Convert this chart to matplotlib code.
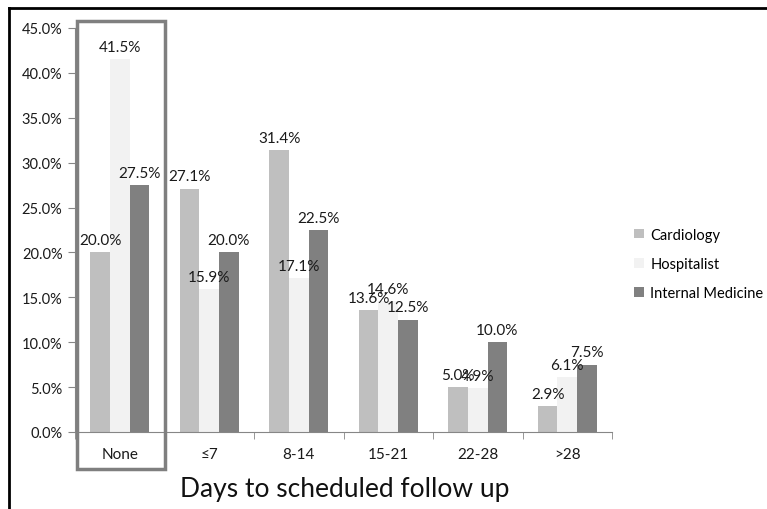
import matplotlib
matplotlib.use("Agg")
import matplotlib.pyplot as plt
from matplotlib.lines import Line2D
from matplotlib.patches import Rectangle
import numpy as np

categories = ["None", "\u22647", "8-14", "15-21", "22-28", ">28"]
cardiology = [20.0, 27.1, 31.4, 13.6, 5.0, 2.9]
hospitalist = [41.5, 15.9, 17.1, 14.6, 4.9, 6.1]
internal_med = [27.5, 20.0, 22.5, 12.5, 10.0, 7.5]
series_names = ["Cardiology", "Hospitalist", "Internal Medicine"]
colors = ["#BFBFBF", "#F2F2F2", "#808080"]
yticks = [0, 5, 10, 15, 20, 25, 30, 35, 40, 45]

plt.rcParams['font.family'] = ['Lato', 'DejaVu Sans']

W, H = 767, 510
fig = plt.figure(figsize=(W / 100, H / 100), dpi=100)
ax = fig.add_axes([75 / W, 1 - 433 / H, (612 - 75) / W, (433 - 29) / H])

x = np.arange(len(categories))
bw = 0.218
data = [cardiology, hospitalist, internal_med]
for i, (vals, c, name) in enumerate(zip(data, colors, series_names)):
    pos = x + (i - 1) * bw
    ax.bar(pos, vals, width=bw, color=c, label=name, zorder=2)
    for px, v in zip(pos, vals):
        ax.text(px, v + 0.6, f"{v:.1f}%", ha="center", va="bottom",
                fontsize=11, color="#1a1a1a")

ax.set_xlim(-0.5, len(categories) - 0.5)
ax.set_ylim(0, 45)
ax.set_yticks(yticks)
ax.set_yticklabels([f"{t:.1f}%" for t in yticks], fontsize=10.5, color="#1a1a1a")
ax.set_xticks(x)
ax.set_xticklabels(categories, fontsize=11, color="#1a1a1a")
ax.set_xticks(np.arange(-0.5, len(categories)), minor=True)
ax.tick_params(axis="x", which="major", length=0, pad=11)
ax.tick_params(axis="x", which="minor", length=5, color="#868686")
ax.tick_params(axis="y", length=5, color="#868686", pad=4)
for s in ["top", "right"]:
    ax.spines[s].set_visible(False)
for s in ["left", "bottom"]:
    ax.spines[s].set_color("#868686")

ax.legend(loc="center left", bbox_to_anchor=(621 / W, 1 - 265 / H),
          bbox_transform=fig.transFigure, frameon=False, fontsize=10.5,
          handlelength=0.65, handleheight=0.65, handletextpad=0.45,
          labelspacing=1.05)

fig.text(345 / W, 1 - 490 / H, "Days to scheduled follow up",
         ha="center", va="center", fontsize=19, color="#111111")

# highlight box around "None"
fig.add_artist(Rectangle((77 / W, 1 - 470 / H), (165 - 77) / W, (470 - 22) / H,
                         transform=fig.transFigure, fill=False,
                         edgecolor="#7F7F7F", linewidth=2.5))

# outer frame
fig.add_artist(Line2D([9 / W, 1], [1 - 9 / H, 1 - 9 / H],
                      transform=fig.transFigure, color="black", linewidth=2))
fig.add_artist(Line2D([9 / W, 9 / W], [0, 1 - 9 / H],
                      transform=fig.transFigure, color="black", linewidth=2))

fig.savefig("out.png", dpi=100)
